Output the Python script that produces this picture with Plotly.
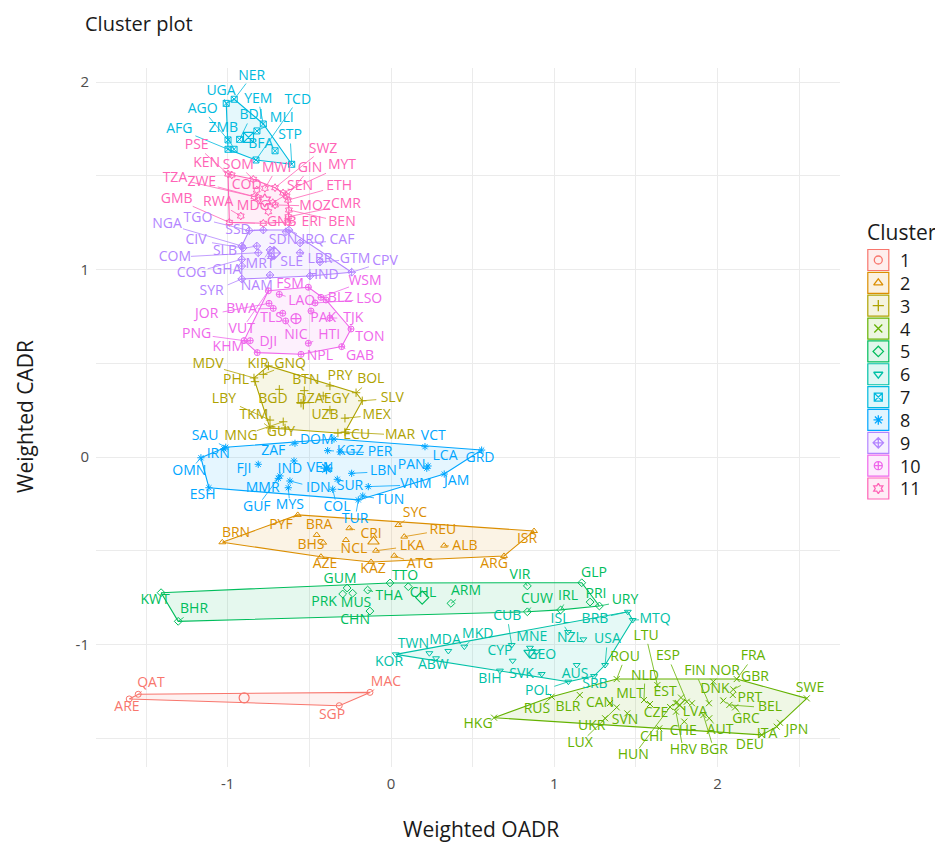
import numpy as np
import plotly.graph_objects as go

# ---- data (Weighted OADR / Weighted CADR) ----
country = [
    "ARE", "QAT", "MAC", "SGP",
    "BRN", "PYF", "BRA", "BHS", "AZE", "SYC", "CRI", "REU", "NCL", "LKA", "ALB", "ISR", "ARG", "ATG", "KAZ",
    "MDV", "PHL", "KIR", "GNQ", "PRY", "BOL", "BTN", "SLV", "LBY", "BGD", "DZA", "EGY", "TKM", "UZB", "MEX",
    "MNG", "GUY", "ECU", "MAR",
    "HKG", "RUS", "BLR", "ROU", "LTU", "NLD", "MLT", "ESP", "EST", "FIN", "LVA", "NOR", "FRA", "GBR", "DNK",
    "PRT", "BEL", "GRC", "SWE", "JPN", "ITA", "DEU", "AUT", "BGR", "HRV", "CHE", "CZE", "CHI", "HUN", "SVN",
    "CAN", "UKR", "LUX",
    "KWT", "BHR", "GLP", "URY", "PRI", "IRL", "CUW", "VIR", "ARM", "CHL", "TTO", "GUM", "THA", "PRK", "MUS", "CHN",
    "KOR", "TWN", "ABW", "MDA", "MKD", "CUB", "CYP", "BIH", "MNE", "GEO", "SVK", "POL", "ISL", "NZL", "USA",
    "AUS", "BRB", "MTQ", "SRB",
    "UGA", "NER", "YEM", "TCD", "MLI", "AGO", "AFG", "ZMB", "BDI", "BFA", "STP",
    "SAU", "IRN", "OMN", "ESH", "FJI", "ZAF", "IND", "VEN", "KGZ", "PER", "MMR", "IDN", "GUF", "MYS", "COL",
    "SUR", "LBN", "TUN", "TUR", "VNM", "PAN", "LCA", "GRD", "JAM", "VCT", "DOM",
    "NGA", "TGO", "SSD", "CIV", "SDN", "IRQ", "CAF", "COM", "SLB", "MRT", "SLE", "LBR", "GTM", "CPV", "COG",
    "GHA", "HND", "SYR", "NAM",
    "FSM", "WSM", "LAO", "BLZ", "LSO", "JOR", "BWA", "TLS", "PAK", "TJK", "PNG", "VUT", "NIC", "HTI", "TON",
    "KHM", "DJI", "NPL", "GAB",
    "PSE", "SWZ", "KEN", "SOM", "MWI", "GIN", "MYT", "COD", "TZA", "ZWE", "SEN", "ETH", "GMB", "RWA", "MDG",
    "MOZ", "CMR", "GNB", "ERI", "BEN",
]
cluster = ([1] * 4 + [2] * 15 + [3] * 19 + [4] * 33 + [5] * 16 + [6] * 19
           + [7] * 11 + [8] * 26 + [9] * 19 + [10] * 19 + [11] * 20)

oadr = [
    -1.603, -1.548, -0.129, -0.317,
    -1.033, -0.571, -0.455, -0.415, -0.429, 0.045, -0.255, 0.081, -0.276, -0.092, 0.325, 0.876, 0.692, 0.020, -0.122,
    -0.839, -0.833, -0.751, -0.782, -0.374, -0.214, -0.531, -0.176, -0.741, -0.684, -0.551, -0.415, -0.741, -0.374,
    -0.282, -0.660, -0.649, -0.325, -0.282,
    0.631, 0.984, 1.156, 1.382, 1.631, 1.549, 1.586, 1.811, 1.776, 1.947, 1.843, 1.974, 2.117, 2.096, 2.035,
    2.093, 2.072, 2.107, 2.546, 2.382, 2.362, 2.270, 1.949, 1.913, 1.745, 1.796, 1.745, 1.643, 1.709, 1.447,
    1.341, 1.311, 1.382,
    -1.408, -1.303, 1.168, 1.276, 1.219, 1.039, 0.835, 0.835, 0.367, 0.106, -0.006, -0.269, -0.143, -0.296, -0.235, -0.129,
    0.029, 0.235, 0.276, 0.351, 0.449, 0.739, 0.745, 0.667, 0.851, 0.892, 0.923, 1.086, 1.084, 1.178, 1.311,
    1.137, 1.450, 1.480, 1.243,
    -1.009, -0.960, -0.782, -0.827, -0.821, -0.998, -0.998, -0.961, -0.927, -0.710, -0.608,
    -1.012, -1.023, -1.164, -1.115, -0.813, -0.588, -0.594, -0.394, -0.388, -0.312, -0.690, -0.619, -0.680, -0.629, -0.357,
    -0.329, -0.241, -0.173, -0.200, -0.139, 0.219, 0.227, 0.555, 0.326, 0.208, -0.349,
    -0.914, -0.868, -0.782, -0.906, -0.643, -0.625, -0.557, -0.813, -0.822, -0.741, -0.731, -0.557, -0.435, -0.241, -0.914,
    -0.914, -0.496, -0.914, -0.741,
    -0.506, -0.429, -0.684, -0.398, -0.465, -0.747, -0.721, -0.663, -0.490, -0.374, -0.900, -0.751, -0.645, -0.506, -0.245,
    -0.862, -0.819, -0.551, -0.302,
    -0.998, -0.710, -0.975, -0.843, -0.772, -0.639, -0.661, -0.822, -0.837, -0.813, -0.724, -0.631, -0.990, -0.920, -0.751,
    -0.710, -0.629, -0.782, -0.631, -0.625,
]
cadr = [
    -1.291, -1.266, -1.256, -1.327,
    -0.455, -0.309, -0.416, -0.457, -0.532, -0.363, -0.380, -0.425, -0.443, -0.500, -0.473, -0.395, -0.528, -0.527, -0.560,
    0.422, 0.402, 0.486, 0.441, 0.379, 0.343, 0.354, 0.300, 0.197, 0.361, 0.287, 0.326, 0.155, 0.251,
    0.207, 0.188, 0.155, 0.128, 0.133,
    -1.391, -1.279, -1.270, -1.185, -1.217, -1.297, -1.318, -1.306, -1.284, -1.314, -1.314, -1.199, -1.185, -1.240, -1.300,
    -1.270, -1.323, -1.336, -1.288, -1.418, -1.439, -1.483, -1.394, -1.377, -1.359, -1.412, -1.314, -1.448, -1.334, -1.368,
    -1.313, -1.394, -1.336,
    -0.724, -0.877, -0.671, -0.795, -0.774, -0.816, -0.826, -0.688, -0.781, -0.692, -0.672, -0.699, -0.710, -0.731, -0.727, -0.822,
    -1.053, -1.047, -1.074, -1.035, -1.012, -1.003, -1.087, -1.140, -1.018, -1.039, -1.158, -1.199, -0.934, -0.973, -1.110,
    -1.110, -0.826, -0.870, -1.169,
    1.887, 1.909, 1.777, 1.585, 1.740, 1.692, 1.642, 1.642, 1.695, 1.634, 1.562,
    0.052, 0.043, -0.004, -0.164, -0.039, 0.073, -0.021, -0.066, 0.034, 0.027, -0.114, -0.128, -0.101, -0.164, -0.172,
    -0.119, -0.087, -0.208, -0.229, -0.158, -0.060, -0.048, 0.037, -0.091, 0.055, 0.096,
    1.126, 1.208, 1.211, 1.115, 1.202, 1.211, 1.142, 1.090, 1.126, 1.105, 1.069, 1.090, 1.041, 0.986, 1.055,
    1.019, 0.966, 0.950, 0.971,
    0.906, 0.852, 0.868, 0.838, 0.822, 0.820, 0.793, 0.767, 0.779, 0.742, 0.621, 0.887, 0.726, 0.607, 0.683,
    0.621, 0.557, 0.548, 0.589,
    1.510, 1.437, 1.505, 1.482, 1.434, 1.393, 1.409, 1.425, 1.389, 1.384, 1.357, 1.371, 1.252, 1.286, 1.309,
    1.345, 1.282, 1.247, 1.254, 1.318,
]

# where the repelled text labels sit
label_oadr = [
    -1.617, -1.470, -0.031, -0.361,
    -0.949, -0.674, -0.441, -0.490, -0.404, 0.147, -0.122, 0.318, -0.227, 0.129, 0.453, 0.833, 0.631, 0.178, -0.110,
    -1.121, -0.949, -0.814, -0.618, -0.312, -0.124, -0.521, 0.008, -1.023, -0.723, -0.496, -0.333, -0.839, -0.404,
    -0.088, -0.919, -0.674, -0.210, 0.055,
    0.533, 0.894, 1.084, 1.433, 1.562, 1.555, 1.464, 1.696, 1.678, 1.862, 1.862, 2.045, 2.217, 2.229, 1.984,
    2.198, 2.321, 2.174, 2.566, 2.486, 2.303, 2.198, 2.015, 1.978, 1.790, 1.790, 1.623, 1.596, 1.484, 1.433,
    1.280, 1.229, 1.157,
    -1.445, -1.206, 1.243, 1.433, 1.255, 1.084, 0.894, 0.790, 0.459, 0.196, 0.086, -0.312, -0.012, -0.410, -0.214, -0.220,
    -0.012, 0.137, 0.259, 0.331, 0.531, 0.712, 0.667, 0.606, 0.862, 0.923, 0.800, 0.902, 1.035, 1.096, 1.325,
    1.127, 1.249, 1.617, 1.249,
    -1.041, -0.853, -0.813, -0.571, -0.669, -1.153, -1.296, -1.027, -0.857, -0.798, -0.618,
    -1.139, -1.058, -1.235, -1.153, -0.900, -0.721, -0.619, -0.435, -0.251, -0.067, -0.786, -0.445, -0.822, -0.619, -0.331,
    -0.251, -0.047, -0.006, -0.220, 0.153, 0.127, 0.331, 0.545, 0.402, 0.259, -0.455,
    -1.372, -1.182, -0.937, -1.194, -0.661, -0.478, -0.300, -1.323, -1.017, -0.802, -0.608, -0.435, -0.220, -0.037, -1.221,
    -1.006, -0.415, -1.098, -0.822,
    -0.618, -0.159, -0.547, -0.312, -0.133, -1.129, -0.914, -0.731, -0.415, -0.231, -1.190, -0.914, -0.582, -0.378, -0.129,
    -0.996, -0.751, -0.435, -0.190,
    -1.190, -0.416, -1.129, -0.935, -0.700, -0.496, -0.300, -0.884, -1.323, -1.159, -0.557, -0.318, -1.312, -1.058, -0.843,
    -0.465, -0.276, -0.669, -0.486, -0.300,
]
label_cadr = [
    -1.339, -1.211, -1.201, -1.377,
    -0.406, -0.363, -0.363, -0.470, -0.571, -0.299, -0.411, -0.390, -0.496, -0.475, -0.480, -0.438, -0.576, -0.576, -0.598,
    0.491, 0.406, 0.496, 0.496, 0.432, 0.411, 0.406, 0.313, 0.309, 0.309, 0.309, 0.308, 0.219, 0.219,
    0.224, 0.112, 0.133, 0.117, 0.117,
    -1.430, -1.350, -1.339, -1.069, -0.957, -1.169, -1.265, -1.067, -1.259, -1.147, -1.361, -1.147, -1.067, -1.179, -1.243,
    -1.286, -1.339, -1.403, -1.233, -1.457, -1.483, -1.537, -1.462, -1.565, -1.566, -1.467, -1.368, -1.496, -1.595, -1.407,
    -1.314, -1.439, -1.528,
    -0.768, -0.816, -0.624, -0.768, -0.736, -0.747, -0.763, -0.630, -0.720, -0.726, -0.640, -0.656, -0.742, -0.774, -0.784, -0.870,
    -1.099, -1.003, -1.110, -0.980, -0.946, -0.852, -1.039, -1.185, -0.962, -1.057, -1.163, -1.252, -0.866, -0.971, -0.976,
    -1.163, -0.866, -0.866, -1.213,
    1.949, 2.033, 1.909, 1.905, 1.807, 1.855, 1.749, 1.754, 1.820, 1.665, 1.713,
    0.112, 0.011, -0.075, -0.208, -0.069, 0.028, -0.066, -0.059, 0.028, 0.023, -0.167, -0.167, -0.268, -0.261, -0.267,
    -0.158, -0.078, -0.233, -0.331, -0.149, -0.043, 0.002, -0.007, -0.132, 0.108, 0.087,
    1.243, 1.275, 1.211, 1.158, 1.153, 1.153, 1.153, 1.066, 1.095, 1.025, 1.037, 1.055, 1.055, 1.042, 0.980,
    0.994, 0.971, 0.882, 0.909,
    0.923, 0.939, 0.832, 0.847, 0.841, 0.758, 0.788, 0.740, 0.740, 0.740, 0.655, 0.681, 0.651, 0.651, 0.639,
    0.585, 0.610, 0.539, 0.539,
    1.660, 1.643, 1.567, 1.558, 1.540, 1.540, 1.553, 1.451, 1.487, 1.464, 1.443, 1.446, 1.375, 1.357, 1.339,
    1.339, 1.345, 1.250, 1.250, 1.254,
]

cluster_names = ["1", "2", "3", "4", "5", "6", "7", "8", "9", "10", "11"]

# ggplot hue palette + shapes 1..11
colors = ["#F8766D", "#DB8E00", "#AEA200", "#64B200", "#00BD5C", "#00C1A7",
          "#00BADE", "#00A6FF", "#B385FF", "#EF67EB", "#FF63B6"]
symbols = ["circle-open", "triangle-up-open", "cross-thin-open", "x-thin-open",
           "diamond-open", "triangle-down-open", "square-x-open", "asterisk-open",
           "diamond-cross-open", "circle-cross-open", "hexagram-open"]
FONT = "Open Sans"

oadr = np.array(oadr)
cadr = np.array(cadr)
label_oadr = np.array(label_oadr)
label_cadr = np.array(label_cadr)
cluster = np.array(cluster)

X_RANGE = [-1.8065, 2.7495]
Y_RANGE = [-1.6542, 2.0758]
W, H = 943, 848
OFF = 8  # page body margin in the viewer
PLOT_L, PLOT_R, PLOT_T, PLOT_B = 96 - OFF, 840 - OFF, 68 - OFF, 767 - OFF
sx = (PLOT_R - PLOT_L) / (X_RANGE[1] - X_RANGE[0])
sy = (PLOT_B - PLOT_T) / (Y_RANGE[1] - Y_RANGE[0])


def rgba(hex_color, a):
    h = hex_color.lstrip("#")
    return "rgba(%d,%d,%d,%s)" % (int(h[0:2], 16), int(h[2:4], 16), int(h[4:6], 16), a)


def convex_hull(px, py):
    pts = sorted(set(zip(px, py)))
    if len(pts) < 3:
        return pts

    def cross(o, a, b):
        return (a[0] - o[0]) * (b[1] - o[1]) - (a[1] - o[1]) * (b[0] - o[0])

    lower, upper = [], []
    for p in pts:
        while len(lower) >= 2 and cross(lower[-2], lower[-1], p) <= 0:
            lower.pop()
        lower.append(p)
    for p in reversed(pts):
        while len(upper) >= 2 and cross(upper[-2], upper[-1], p) <= 0:
            upper.pop()
        upper.append(p)
    return lower[:-1] + upper[:-1]


fig = go.Figure()

# hulls
for k, name in enumerate(cluster_names):
    m = cluster == k + 1
    hull = convex_hull(oadr[m], cadr[m])
    hx = [p[0] for p in hull] + [hull[0][0]]
    hy = [p[1] for p in hull] + [hull[0][1]]
    fig.add_trace(go.Scatter(
        x=hx, y=hy, mode="lines", fill="toself",
        fillcolor=rgba(colors[k], 0.1),
        line=dict(color=colors[k], width=1.1),
        hoverinfo="skip", showlegend=False,
    ))

# leader segments from point to label box
for k, name in enumerate(cluster_names):
    idx = np.where(cluster == k + 1)[0]
    segx, segy = [], []
    for i in idx:
        dx = (label_oadr[i] - oadr[i]) * sx
        dy = (label_cadr[i] - cadr[i]) * sy
        hw = 5.0 * len(country[i]) + 1
        hh = 7.5
        if abs(dx) <= hw and abs(dy) <= hh:
            continue
        t = min(hw / abs(dx) if dx else 1e9, hh / abs(dy) if dy else 1e9)
        ex = label_oadr[i] - (label_oadr[i] - oadr[i]) * t
        ey = label_cadr[i] - (label_cadr[i] - cadr[i]) * t
        if np.hypot(dx, dy) * (1 - t) < 4:
            continue
        segx += [oadr[i], ex, None]
        segy += [cadr[i], ey, None]
    if segx:
        fig.add_trace(go.Scatter(
            x=segx, y=segy, mode="lines",
            line=dict(color=colors[k], width=0.8),
            hoverinfo="skip", showlegend=False,
        ))

# points, centers and labels
for k, name in enumerate(cluster_names):
    m = cluster == k + 1
    fig.add_trace(go.Scatter(
        x=oadr[m], y=cadr[m], mode="markers",
        marker=dict(symbol=symbols[k], size=6, color=colors[k],
                    line=dict(color=colors[k], width=1)),
        name=name, showlegend=False, cliponaxis=False,
    ))
    fig.add_trace(go.Scatter(
        x=[oadr[m].mean()], y=[cadr[m].mean()], mode="markers",
        marker=dict(symbol=symbols[k], size=10, color=colors[k],
                    line=dict(color=colors[k], width=1.2)),
        hoverinfo="skip", showlegend=False,
    ))
    fig.add_trace(go.Scatter(
        x=label_oadr[m], y=label_cadr[m], mode="text",
        text=[c for c, f in zip(country, m) if f],
        textfont=dict(family=FONT, size=14, color=colors[k]),
        hoverinfo="skip", showlegend=False, cliponaxis=False,
    ))

# hand-made legend (ggplot style keys) on an overlay pixel axis
key_y = [260 - OFF + 22.85 * i for i in range(len(cluster_names))]
key_x = 878.3 - OFF
fig.add_trace(go.Scatter(
    x=[key_x] * len(cluster_names), y=key_y, mode="markers",
    marker=dict(symbol="square", size=21,
                color=[rgba(c, 0.12) for c in colors],
                line=dict(color=colors, width=1.2)),
    xaxis="x2", yaxis="y2", hoverinfo="skip", showlegend=False,
))
fig.add_trace(go.Scatter(
    x=[key_x] * len(cluster_names), y=key_y, mode="markers",
    marker=dict(symbol=symbols, size=8, color=colors,
                line=dict(color=colors, width=1.3)),
    xaxis="x2", yaxis="y2", hoverinfo="skip", showlegend=False,
))


def ann(px, py, text, size, anchor="left", angle=0, yanchor="middle"):
    return dict(x=(px - OFF) / W, y=1 - (py - OFF) / H, xref="paper", yref="paper",
                text=text, showarrow=False, textangle=angle,
                xanchor=anchor, yanchor=yanchor,
                font=dict(family=FONT, size=size, color="#1A1A1A"))


annotations = [
    ann(83, 8, "Cluster plot", 20, yanchor="top"),
    ann(481, 829, "Weighted OADR", 21, "center"),
    ann(25, 417, "Weighted CADR", 21, "center", -90),
    ann(865, 232, "Cluster", 21),
]
for name, yy in zip(cluster_names, key_y):
    annotations.append(ann(898, yy + OFF, name, 18))

xt = [-1.5, -1, -0.5, 0, 0.5, 1, 1.5, 2, 2.5]
yt = [-1.5, -1, -0.5, 0, 0.5, 1, 1.5, 2]


def tick_text(vals):
    return [str(int(v)) if v == int(v) else "" for v in vals]


fig.update_layout(
    width=W, height=H,
    margin=dict(l=0, r=0, t=0, b=0, autoexpand=False),
    paper_bgcolor="white", plot_bgcolor="rgba(0,0,0,0)",
    showlegend=False,
    annotations=annotations,
    xaxis=dict(domain=[PLOT_L / W, PLOT_R / W], range=X_RANGE, anchor="y",
               tickmode="array", tickvals=xt, ticktext=tick_text(xt),
               showgrid=True, gridcolor="#EBEBEB", gridwidth=1, zeroline=False, showline=False,
               ticks="", ticklabelstandoff=6,
               tickfont=dict(family=FONT, size=15, color="#4D4D4D")),
    yaxis=dict(domain=[1 - PLOT_B / H, 1 - PLOT_T / H], range=Y_RANGE, anchor="x",
               tickmode="array", tickvals=yt, ticktext=tick_text(yt),
               showgrid=True, gridcolor="#EBEBEB", gridwidth=1, zeroline=False, showline=False,
               ticks="", ticklabelstandoff=6,
               tickfont=dict(family=FONT, size=15, color="#4D4D4D")),
    xaxis2=dict(domain=[0, 1], range=[0, W], anchor="y2", visible=False, fixedrange=True),
    yaxis2=dict(domain=[0, 1], range=[H, 0], anchor="x2", visible=False, fixedrange=True),
)

fig.write_html("out.html")
